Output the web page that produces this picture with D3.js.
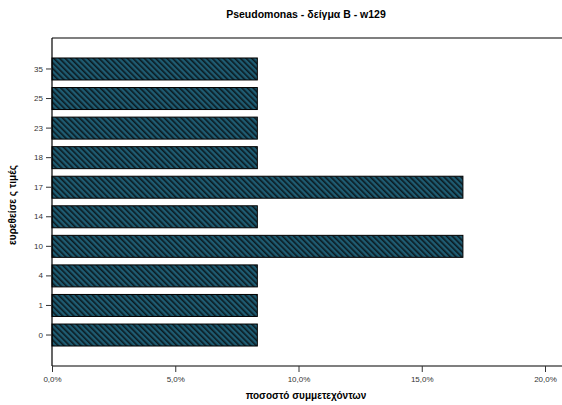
<!DOCTYPE html>
<html><head><meta charset="utf-8">
<script src="https://cdn.jsdelivr.net/npm/d3@7"></script>
<style>body{margin:0;background:#fff}svg{display:block}</style>
</head><body>
<script>
const categories = ["35","25","23","18","17","14","10","4","1","0"];
const values = [8.33,8.33,8.33,8.33,16.67,8.33,16.67,8.33,8.33,8.33];
const xTicks = [0,5,10,15,20];
const title = "Pseudomonas - δείγμα B - w129";
const xTitle = "ποσοστό συμμετεχόντων";
const yTitle = "ευρεθείσε ς τιμές";

(function(){
const W = 562, H = 405;
const mLeft = 52, mTop = 38, mBottom = 366, mRight = 545;
const svg = d3.select("body").append("svg").attr("width", W).attr("height", H)
  .style("font-family", "'Liberation Sans', Arial, sans-serif");

const defs = svg.append("defs");
const pat = defs.append("pattern").attr("id","hatch").attr("patternUnits","userSpaceOnUse")
  .attr("width",4).attr("height",4).attr("patternTransform","rotate(-45)");
pat.append("rect").attr("width",4).attr("height",4).attr("fill","#1f5c72");
pat.append("rect").attr("width",1.6).attr("height",4).attr("fill","#0a1a20");

const x = d3.scaleLinear().domain([0,20]).range([mLeft, mRight]);
const y = d3.scaleBand().domain(categories).range([mTop, mBottom]).paddingInner(0.256).paddingOuter(0.676);

svg.append("g").selectAll("rect").data(categories).join("rect")
  .attr("x", x(0)).attr("y", d => y(d))
  .attr("width", (d,i) => x(values[i]) - x(0)).attr("height", y.bandwidth())
  .attr("fill","url(#hatch)").attr("stroke","#000").attr("stroke-width",1);

svg.append("line").attr("x1",mLeft).attr("x2",W).attr("y1",mTop).attr("y2",mTop).attr("stroke","#000").attr("stroke-width",1.2);

const yAxis = svg.append("g").attr("transform",`translate(${mLeft},0)`)
  .call(d3.axisLeft(y).tickSize(6).tickPadding(3));
yAxis.select(".domain").attr("d", `M0,${mTop}V${mBottom}`).attr("stroke","#000").attr("stroke-width",1.2);
yAxis.selectAll("text").attr("font-size",8).attr("fill","#333");
yAxis.selectAll(".tick line").attr("stroke","#333");

const xAxis = svg.append("g").attr("transform",`translate(0,${mBottom})`)
  .call(d3.axisBottom(x).tickValues(xTicks).tickSize(6).tickPadding(4)
    .tickFormat(d => d3.format(".1f")(d).replace(".", ",") + "%"));
xAxis.select(".domain").attr("d", `M${mLeft},0H${W}`).attr("stroke","#000").attr("stroke-width",1.2);
xAxis.selectAll("text").attr("font-size",8).attr("fill","#333");
xAxis.selectAll(".tick line").attr("stroke","#333");

svg.append("text").attr("x",306).attr("y",18).attr("text-anchor","middle")
  .attr("font-size",10.5).attr("font-weight","bold").text(title);
svg.append("text").attr("x",306).attr("y",399).attr("text-anchor","middle")
  .attr("font-size",10).attr("font-weight","bold").text(xTitle);
svg.append("text").attr("transform","translate(16,205) rotate(-90)").attr("text-anchor","middle")
  .attr("font-size",10).attr("font-weight","bold").text(yTitle);
})();
</script>
</body></html>
